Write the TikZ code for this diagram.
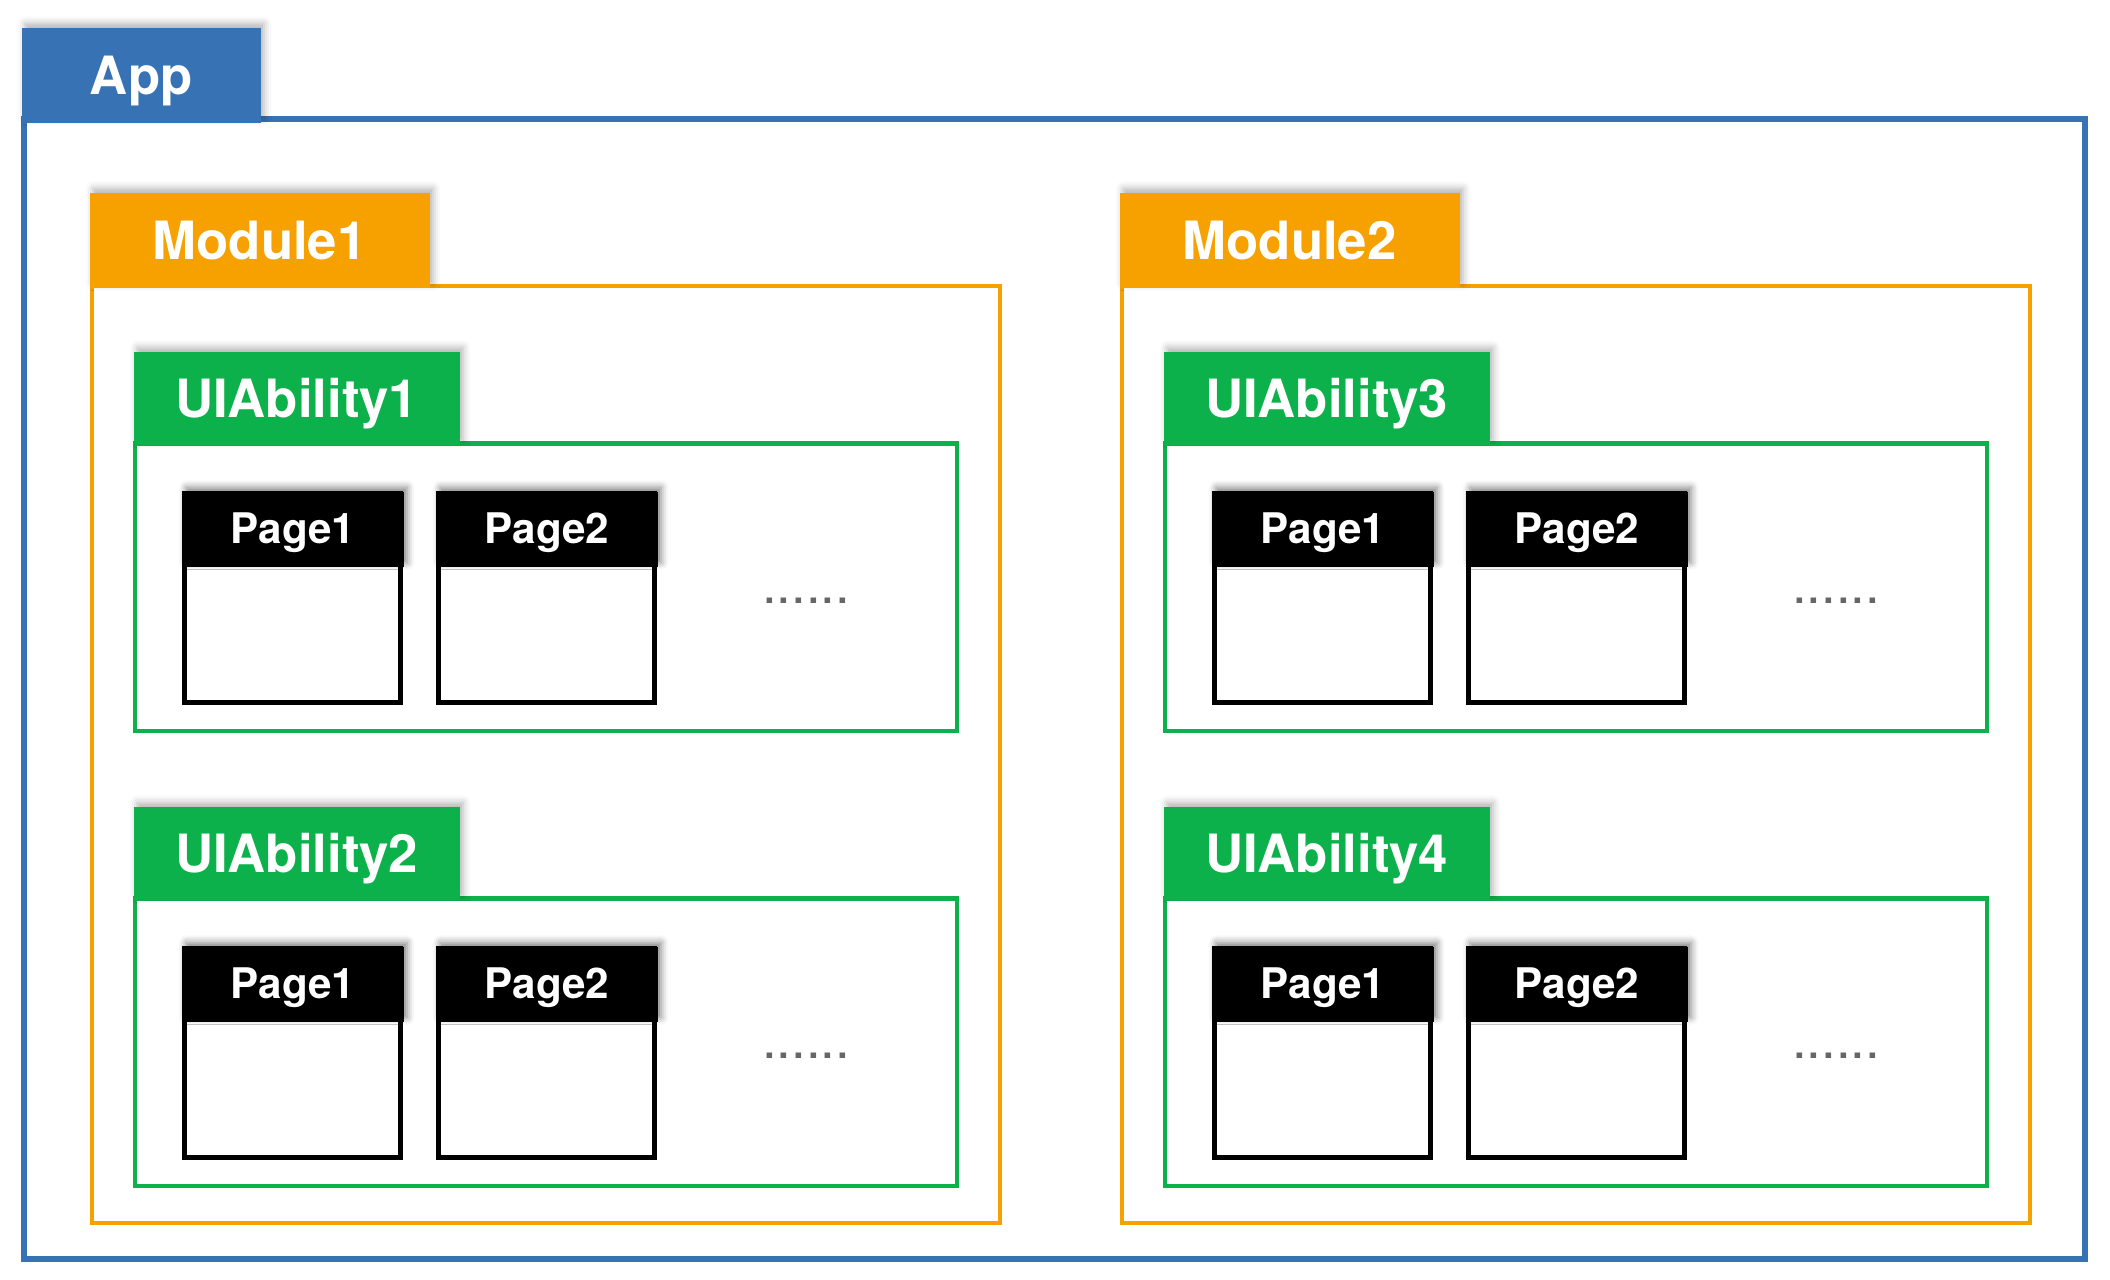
\documentclass[tikz,border=0pt]{standalone}
\usepackage{fontspec}
\setmainfont{TeX Gyre Heros}
\usetikzlibrary{shadows.blur}

\definecolor{appblue}{RGB}{54,114,180}
\definecolor{modorange}{RGB}{247,161,0}
\definecolor{abigreen}{RGB}{13,177,75}
\definecolor{dotgray}{RGB}{102,102,102}

\tikzset{
  tablabel/.style={fill=#1, text=white, font=\fontsize{15}{18}\selectfont\bfseries,
    inner sep=0pt, text height=10.8pt, text depth=0pt, anchor=north west,
    blur shadow={shadow xshift=1pt, shadow yshift=1.2pt, shadow blur radius=2pt, shadow opacity=30}},
  frameline/.style={draw=#1, line width=1.3pt},
  pagehead/.style={fill=black, text=white, font=\fontsize{12}{14}\selectfont\bfseries,
    inner sep=0pt, text height=8.3pt, text depth=0pt, anchor=north west,
    minimum width=22.1mm, minimum height=7.5mm,
    blur shadow={shadow xshift=1pt, shadow yshift=1.2pt, shadow blur radius=2pt, shadow opacity=50}},
  pagebody/.style={draw=black, line width=1.55pt, fill=white},
  moredots/.style={text=dotgray, font=\fontsize{15}{18}\selectfont, inner sep=0pt, anchor=base}
}

\begin{document}
\begin{tikzpicture}[x=0.1mm, y=-0.1mm]
	\useasboundingbox (0,0) rectangle (2110,1280);
	
	% outer app frame
	\draw[frameline=appblue, line width=1.45pt] (24,119) rectangle (2085,1259);
	\node[tablabel=appblue, minimum width=23.9mm, minimum height=9.5mm] (app) at (21,27) {App};
	
	% modules, abilities and pages
	\foreach \dx/\m/\ua/\ub in {0/1/1/2, 1030/2/3/4} {
		\draw[frameline=modorange] (92+\dx,286) rectangle (1000+\dx,1223);
		\node[tablabel=modorange, minimum width=34mm, minimum height=9.5mm] (module\m) at (89+\dx,192) {Module\m};
		\foreach \dy/\u in {0/\ua, 455/\ub} {
			\draw[frameline=abigreen] (135+\dx,443.5+\dy) rectangle (957+\dx,731+\dy);
			\node[tablabel=abigreen, minimum width=32.6mm, minimum height=9.3mm] (ability\u) at (133+\dx,351+\dy) {UIAbility\u};
			\foreach \px/\p in {182/1, 436/2} {
				\draw[pagebody] (\px+2.5+\dx,493.5+\dy) rectangle ++(216,209);
				\node[pagehead] (page\u-\p) at (\px+\dx,491+\dy) {Page\p};
			}
			\node[moredots] (more\u) at (806+\dx,603+\dy) {......};
		}
	}
	
\end{tikzpicture}
\end{document}
